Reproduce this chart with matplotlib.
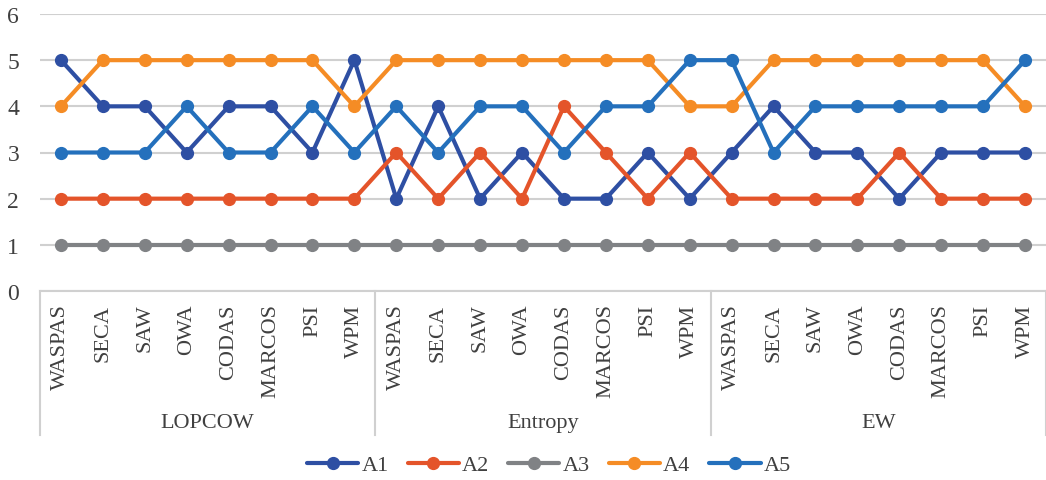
import matplotlib
matplotlib.use('Agg')
import matplotlib.pyplot as plt
import matplotlib.transforms as mtransforms
import numpy as np

# category labels
methods = ['WASPAS', 'SECA', 'SAW', 'OWA', 'CODAS', 'MARCOS', 'PSI', 'WPM']
groups = ['LOPCOW', 'Entropy', 'EW']

# ranks (LOPCOW | Entropy | EW)
a1 = [5, 4, 4, 3, 4, 4, 3, 5,  2, 4, 2, 3, 2, 2, 3, 2,  3, 4, 3, 3, 2, 3, 3, 3]
a2 = [2, 2, 2, 2, 2, 2, 2, 2,  3, 2, 3, 2, 4, 3, 2, 3,  2, 2, 2, 2, 3, 2, 2, 2]
a3 = [1, 1, 1, 1, 1, 1, 1, 1,  1, 1, 1, 1, 1, 1, 1, 1,  1, 1, 1, 1, 1, 1, 1, 1]
a4 = [4, 5, 5, 5, 5, 5, 5, 4,  5, 5, 5, 5, 5, 5, 5, 4,  4, 5, 5, 5, 5, 5, 5, 4]
a5 = [3, 3, 3, 4, 3, 3, 4, 3,  4, 3, 4, 4, 3, 4, 4, 5,  5, 3, 4, 4, 4, 4, 4, 5]

series = [('A1', a1, '#2E4FA3'), ('A2', a2, '#E4542A'), ('A3', a3, '#808285'),
          ('A4', a4, '#F58C25'), ('A5', a5, '#2470BC')]

plt.rcParams['font.family'] = ['Liberation Serif', 'DejaVu Serif']
txt_color = '#404040'
grid_color = '#D0D0D0'
fs = 16

W, H = 1046, 481
fig = plt.figure(figsize=(W / 100, H / 100), dpi=100)
ax = fig.add_axes([40 / W, 1 - 292 / H, 1006 / W, 277 / H])

x = np.arange(len(methods) * len(groups))
for name, vals, col in series:
  ax.plot(x, vals, color=col, lw=3.0, marker='o', ms=8.5, label=name,
          solid_capstyle='round', zorder=3)

ax.set_xlim(-0.5, len(x) - 0.5)
ax.set_ylim(0, 6)
ax.set_yticks(range(7))
ax.yaxis.grid(True, color=grid_color, lw=1.5)
ax.set_axisbelow(True)
for s in ['top', 'right', 'left']:
  ax.spines[s].set_visible(False)
ax.spines['bottom'].set_color(grid_color)
ax.spines['bottom'].set_linewidth(1.5)
ax.tick_params(axis='y', length=0, pad=15, labelsize=fs + 1, labelcolor=txt_color)

ax.set_xticks(x)
ax.set_xticklabels(methods * len(groups), rotation=90, va='top', ha='center',
                   fontsize=fs, color=txt_color)
ax.tick_params(axis='x', length=0, pad=9)

# group separators and group labels
trans = mtransforms.blended_transform_factory(ax.transData, ax.transAxes)
n = len(methods)
for i in range(len(groups) + 1):
  xs = i * n - 0.5
  ax.plot([xs, xs], [0, -0.52], transform=trans, color=grid_color, lw=1.5,
          clip_on=False)
for i, g in enumerate(groups):
  ax.text(i * n + (n - 1) / 2, -0.475, g, transform=trans, ha='center',
          va='center', fontsize=fs, color=txt_color)

fig.legend(loc='center', bbox_to_anchor=(0.525, 1 - 466 / H), ncol=5,
           frameon=False, fontsize=fs, handlelength=2.3, columnspacing=0.85,
           handletextpad=0.15, labelcolor=txt_color)

fig.savefig('out.png', dpi=100)
